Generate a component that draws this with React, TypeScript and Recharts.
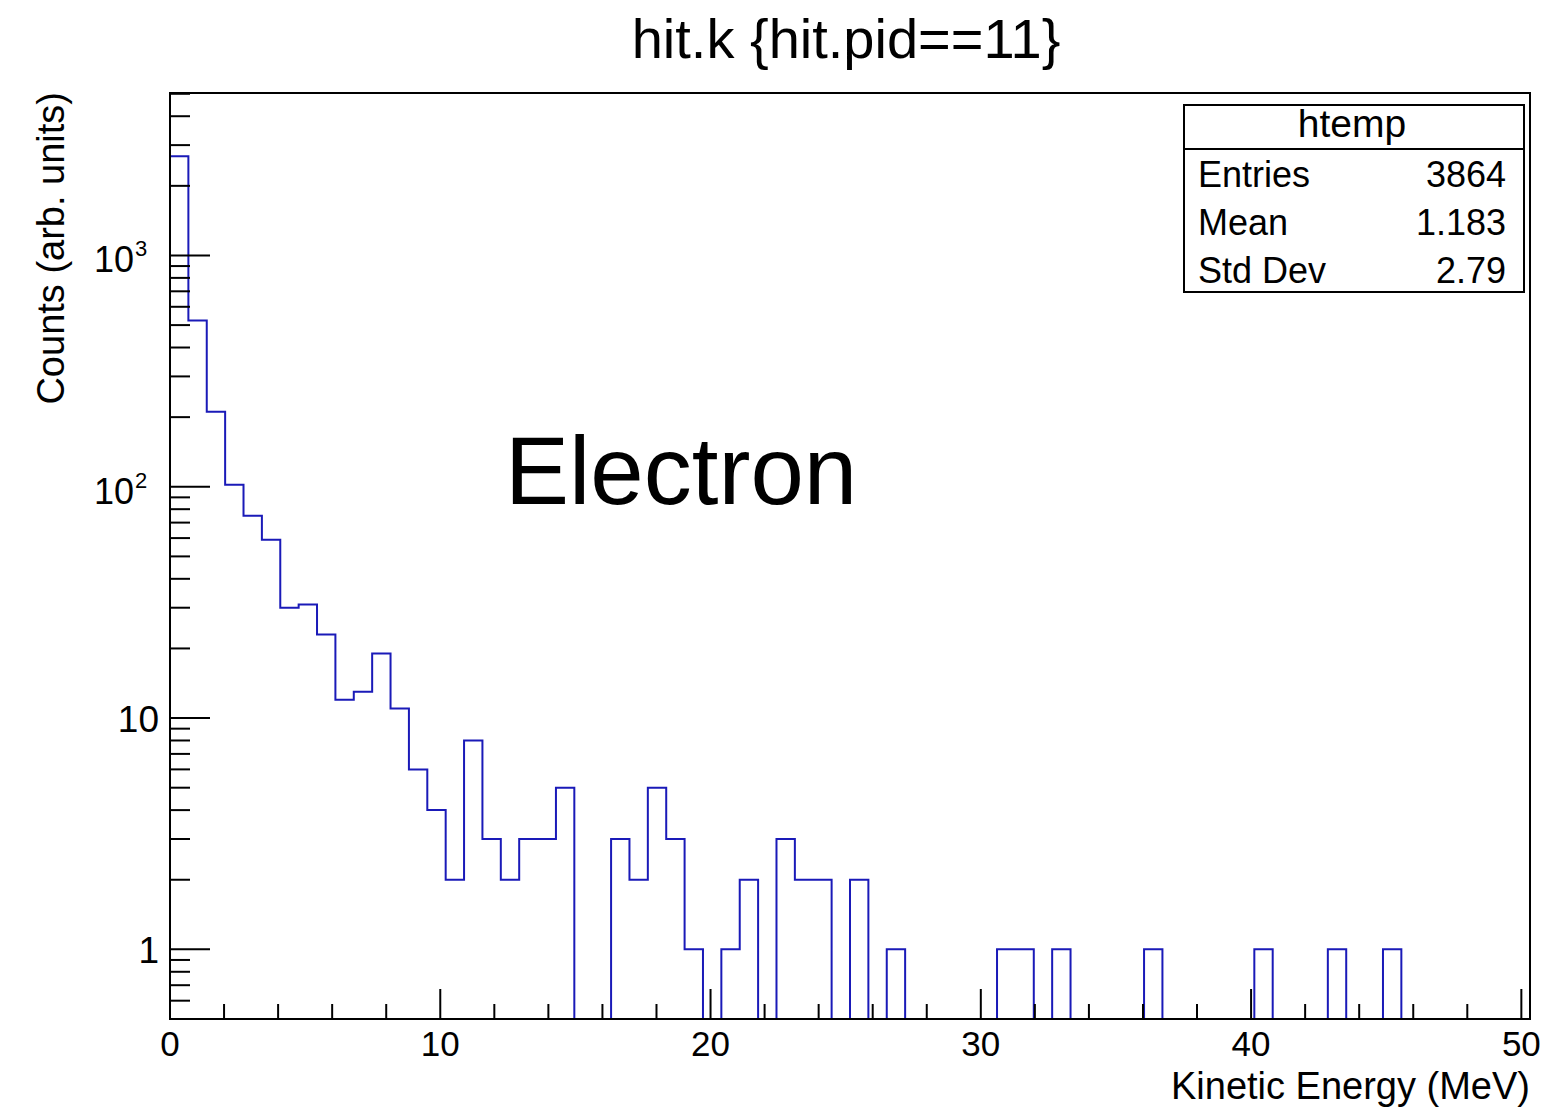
import { LineChart, Line, XAxis, YAxis, ReferenceArea } from "recharts";

// histogram: 74 bins of 0.68 MeV starting at 0
const BIN_WIDTH = 0.68;
const counts = [
  2685, 523, 211, 102, 75, 59, 30, 31, 23, 12, 13, 19, 11, 6, 4, 2, 8, 3, 2, 3,
  3, 5, 0, 0, 3, 2, 5, 3, 1, 0, 1, 2, 0, 3, 2, 2, 0, 2, 0, 1,
  0, 0, 0, 0, 0, 1, 1, 0, 1, 0, 0, 0, 0, 1, 0, 0, 0, 0, 0, 1,
  0, 0, 0, 1, 0, 0, 1, 0, 0, 0, 0, 0, 0, 0,
];

const xTicks = [0, 2, 4, 6, 8, 10, 12, 14, 16, 18, 20, 22, 24, 26, 28, 30, 32, 34, 36, 38, 40, 42, 44, 46, 48, 50];
const xMajor = [0, 10, 20, 30, 40, 50];

const yTicks = [
  0.6, 0.7, 0.8, 0.9, 1, 2, 3, 4, 5, 6, 7, 8, 9, 10, 20, 30, 40, 50, 60, 70, 80, 90,
  100, 200, 300, 400, 500, 600, 700, 800, 900, 1000, 2000, 3000, 4000, 5000,
];
const yMajor = [1, 10, 100, 1000];
const yMajorLabels = [
  { base: "1", exp: "" },
  { base: "10", exp: "" },
  { base: "10", exp: "2" },
  { base: "10", exp: "3" },
];

const statsTitle = "htemp";
const statsNames = ["Entries", "Mean", "Std Dev"];
const statsValues = ["3864", "1.183", "2.79"];

const X_MAX = counts.length * BIN_WIDTH;
const Y_MIN = 0.5;
const Y_MAX = 5040;

const FONT = "'Liberation Sans', Arial, Helvetica, sans-serif";
const LINE_COLOR = "#1a1ab8";

// zero bins go down to the bottom of the frame, like ROOT does on log scale
const data = counts
  .map((c, i) => ({ x: i * BIN_WIDTH, y: c > 0 ? c : Y_MIN }))
  .concat([{ x: X_MAX, y: counts[counts.length - 1] > 0 ? counts[counts.length - 1] : Y_MIN }]);

function XTick(props: any) {
  const { x, y, payload } = props;
  const major = xMajor.includes(payload.value);
  return (
    <g>
      <line x1={x} y1={y} x2={x} y2={y - (major ? 30 : 15)} stroke="#000" strokeWidth={2} />
      {major && (
        <text x={x} y={y + 37} textAnchor="middle" fontSize={35} fontFamily={FONT} fill="#000">
          {payload.value}
        </text>
      )}
    </g>
  );
}

function YTick(props: any) {
  const { x, y, payload } = props;
  const idx = yMajor.indexOf(payload.value);
  const major = idx >= 0;
  const lab = major ? yMajorLabels[idx] : null;
  return (
    <g>
      <line x1={x} y1={y} x2={x + (major ? 40 : 20)} y2={y} stroke="#000" strokeWidth={2} />
      {lab && !lab.exp && (
        <text x={x - 11} y={y + 14} textAnchor="end" fontSize={37} fontFamily={FONT} fill="#000">
          {lab.base}
        </text>
      )}
      {lab && lab.exp && (
        <g>
          <text x={x - 36} y={y + 17} textAnchor="end" fontSize={36} fontFamily={FONT} fill="#000">
            {lab.base}
          </text>
          <text x={x - 35} y={y + 1} textAnchor="start" fontSize={22} fontFamily={FONT} fill="#000">
            {lab.exp}
          </text>
        </g>
      )}
    </g>
  );
}

export default function App() {
  return (
    <div style={{ position: "absolute", left: 0, top: 0, width: 1542, height: 1114, background: "#fff" }}>
      <LineChart
        width={1542}
        height={1114}
        data={data}
        margin={{ top: 93, right: 12, bottom: 0, left: 0 }}
      >
        <XAxis
          dataKey="x"
          type="number"
          domain={[0, X_MAX]}
          allowDataOverflow
          ticks={xTicks}
          interval={0}
          tick={<XTick />}
          tickLine={false}
          tickSize={0}
          tickMargin={0}
          height={95}
          axisLine={{ stroke: "#000", strokeWidth: 2 }}
        />
        <YAxis
          type="number"
          scale="log"
          domain={[Y_MIN, Y_MAX]}
          allowDataOverflow
          ticks={yTicks}
          interval={0}
          tick={<YTick />}
          tickLine={false}
          tickSize={0}
          tickMargin={0}
          width={170}
          axisLine={{ stroke: "#000", strokeWidth: 2 }}
        />
        <Line
          type="stepAfter"
          dataKey="y"
          stroke={LINE_COLOR}
          strokeWidth={2}
          dot={false}
          activeDot={false}
          isAnimationActive={false}
        />
        <ReferenceArea
          x1={0}
          x2={X_MAX}
          y1={Y_MIN}
          y2={Y_MAX}
          fill="none"
          stroke="#000"
          strokeWidth={2}
          ifOverflow="visible"
        />
      </LineChart>

      <svg
        width={1542}
        height={1114}
        style={{ position: "absolute", left: 0, top: 0, pointerEvents: "none" }}
        fontFamily={FONT}
      >
        <text x={846} y={58} textAnchor="middle" fontSize={56} fill="#000">
          hit.k {"{"}hit.pid==11{"}"}
        </text>
        <text x={505} y={504} fontSize={96} fill="#000">
          Electron
        </text>
        <text x={1530} y={1099} textAnchor="end" fontSize={38} fill="#000">
          Kinetic Energy (MeV)
        </text>
        <text
          transform="translate(64, 92) rotate(-90)"
          x={0}
          y={0}
          textAnchor="end"
          fontSize={38}
          fill="#000"
        >
          Counts (arb. units)
        </text>

        <rect x={1184} y={105} width={340} height={187} fill="#fff" stroke="#000" strokeWidth={2} />
        <line x1={1184} y1={149} x2={1524} y2={149} stroke="#000" strokeWidth={2} />
        <text x={1352} y={137} textAnchor="middle" fontSize={39} fill="#000">
          {statsTitle}
        </text>
        {statsNames.map((name, i) => (
          <g key={name}>
            <text x={1198} y={187 + i * 48} fontSize={36} fill="#000">
              {name}
            </text>
            <text x={1506} y={187 + i * 48} textAnchor="end" fontSize={36} fill="#000">
              {statsValues[i]}
            </text>
          </g>
        ))}
      </svg>
    </div>
  );
}
